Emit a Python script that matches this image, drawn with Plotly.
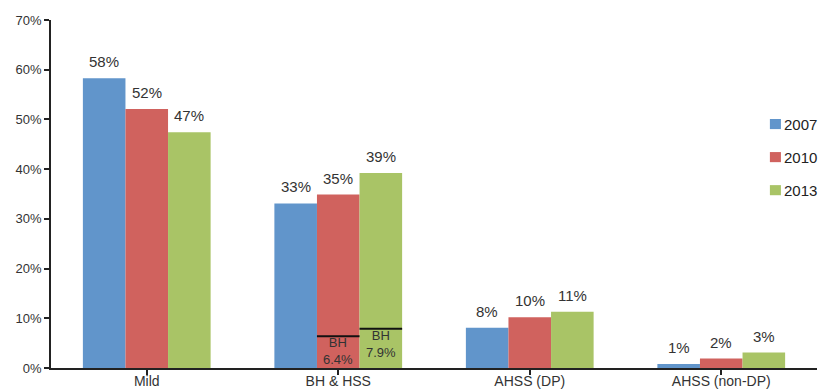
import plotly.graph_objects as go

categories = ["Mild", "BH & HSS", "AHSS (DP)", "AHSS (non-DP)"]
years = ["2007", "2010", "2013"]
share_2007 = [58.3, 33.1, 8.1, 0.8]
share_2010 = [52.1, 34.9, 10.2, 1.9]
share_2013 = [47.4, 39.2, 11.3, 3.1]
series = [share_2007, share_2010, share_2013]
colors = ["#6195cb", "#d0625e", "#a9c466"]

# bake-hardening portion inside the BH & HSS bars (2010, 2013)
bh_years = ["2010", "2013"]
bh_share = [6.4, 7.9]

y_ticks = [0, 10, 20, 30, 40, 50, 60, 70]

BARGAP = 0.333
TEXT = "#333333"
FONT = "Arial, Liberation Sans, sans-serif"

fig = go.Figure()
for yr, vals, col in zip(years, series, colors):
    fig.add_trace(go.Bar(
        name=yr, x=list(range(len(categories))), y=vals,
        marker=dict(color=col, line=dict(width=0)),
        hoverinfo="skip", showlegend=False,
    ))

bar_w = (1 - BARGAP) / len(years)

def bar_center(cat_idx, year_idx):
    return cat_idx + (year_idx - (len(years) - 1) / 2) * bar_w

annotations = []
shapes = []

# value labels above each bar
for j, vals in enumerate(series):
    for i, v in enumerate(vals):
        annotations.append(dict(
            x=bar_center(i, j), y=v, xref="x", yref="y",
            text=f"{round(v):d}%", showarrow=False,
            yanchor="bottom", yshift=6,
            font=dict(family=FONT, size=15, color=TEXT),
        ))

# BH split line and caption inside the BH & HSS bars
bh_cat = categories.index("BH & HSS")
for yr, v in zip(bh_years, bh_share):
    j = years.index(yr)
    xc = bar_center(bh_cat, j)
    shapes.append(dict(
        type="line", xref="x", yref="y",
        x0=xc - bar_w / 2, x1=xc + bar_w / 2, y0=v, y1=v,
        line=dict(color="#111111", width=2),
    ))
    annotations.append(dict(
        x=xc, y=v, xref="x", yref="y", text=f"BH<br>{v:.1f}%",
        showarrow=False, yanchor="top", yshift=2, borderpad=0,
        font=dict(family=FONT, size=13, color=TEXT),
    ))

# legend: swatch + year label, stacked on the right
legend_x = 0.9385
legend_y = [0.701, 0.606, 0.511]
for yr, col, ly in zip(years, colors, legend_y):
    shapes.append(dict(
        type="rect", xref="paper", yref="paper",
        x0=legend_x, x1=legend_x + 0.0144, y0=ly - 0.0145, y1=ly + 0.0145,
        fillcolor=col, line=dict(width=0),
    ))
    annotations.append(dict(
        x=legend_x + 0.0155, y=ly, xref="paper", yref="paper",
        text=yr, showarrow=False, xanchor="left", yanchor="middle",
        font=dict(family=FONT, size=15, color="#222222"),
    ))

fig.update_layout(
    template="none",
    width=821, height=389,
    margin=dict(l=51, r=4, t=20, b=21, autoexpand=False),
    plot_bgcolor="white", paper_bgcolor="white",
    barmode="group", bargap=BARGAP, bargroupgap=0,
    annotations=annotations, shapes=shapes,
    showlegend=False,
)
fig.update_xaxes(
    automargin=False,
    tickmode="array", tickvals=list(range(len(categories))), ticktext=categories,
    range=[-0.5, len(categories) - 0.5],
    showline=True, linecolor="#222222", linewidth=1.5,
    ticks="outside", ticklen=5, tickcolor="#222222", tickwidth=1.5,
    ticklabelstandoff=-6,
    tickfont=dict(family=FONT, size=14, color=TEXT),
    showgrid=False, zeroline=False,
)
fig.update_yaxes(
    automargin=False,
    range=[0, 70], tickvals=y_ticks, ticktext=[f"{t}%" for t in y_ticks],
    showline=True, linecolor="#222222", linewidth=1.5,
    ticks="outside", ticklen=5, tickcolor="#222222", tickwidth=1.5,
    tickfont=dict(family=FONT, size=13, color=TEXT),
    showgrid=False, zeroline=False,
)

fig.write_html("out.html")
